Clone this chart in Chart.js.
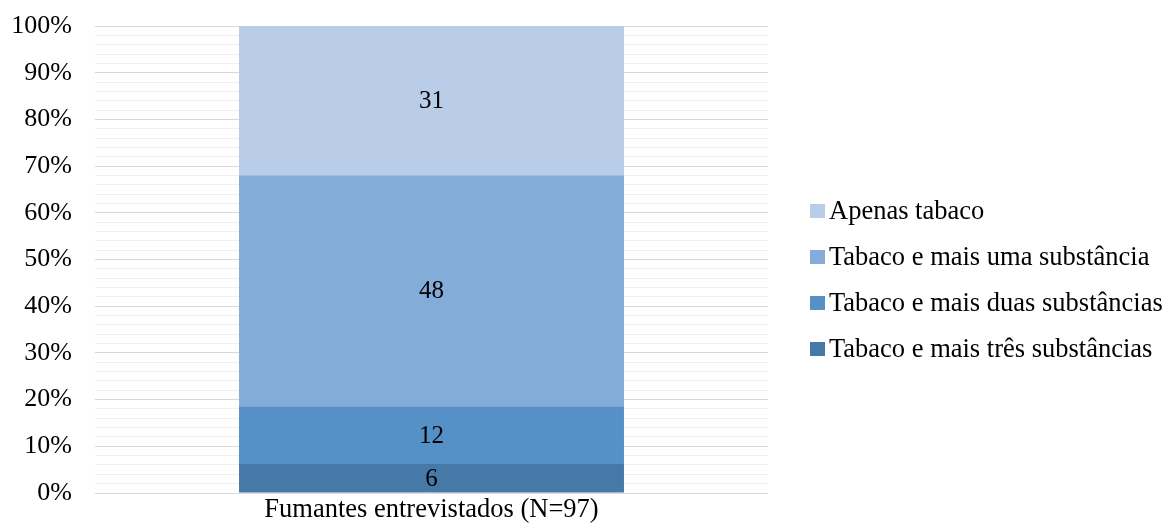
<!DOCTYPE html>
<html><head><meta charset="utf-8">
<script src="https://cdn.jsdelivr.net/npm/chart.js@4/dist/chart.umd.min.js"></script>
<style>html,body{margin:0;padding:0;background:#fff}#wrap{width:1169px;height:525px}</style>
</head><body><div id="wrap"><canvas id="c" width="1169" height="525"></canvas></div>
<script>
const categories = ['Fumantes entrevistados (N=97)'];
const seriesNames = ['Tabaco e mais três substâncias','Tabaco e mais duas substâncias','Tabaco e mais uma substância','Apenas tabaco'];
const tresValues = [6];
const duasValues = [12];
const umaValues = [48];
const apenasValues = [31];
const colors = ['#4779a8','#5591c7','#84acd9','#b9cde8'];
const allValues = [tresValues, duasValues, umaValues, apenasValues];
const totals = categories.map((_, i) => allValues.reduce((s, a) => s + a[i], 0));

const FONT = "'Liberation Serif', 'Times New Roman', serif";

const labelPlugin = {
  id: 'segLabels',
  afterDatasetsDraw(chart) {
    const ctx = chart.ctx;
    ctx.save();
    ctx.font = '25px ' + FONT;
    ctx.fillStyle = '#000';
    ctx.textAlign = 'center';
    ctx.textBaseline = 'middle';
    chart.data.datasets.forEach((ds, di) => {
      chart.getDatasetMeta(di).data.forEach((el, i) => {
        const p = el.getProps(['x','y','base'], true);
        ctx.fillText(String(ds.raw[i]), p.x, (p.y + p.base) / 2 + 1);
      });
    });
    ctx.restore();
  }
};

const legendPlugin = {
  id: 'sideLegend',
  afterDraw(chart) {
    const ctx = chart.ctx;
    const a = chart.chartArea;
    const ds = chart.data.datasets.slice().reverse();
    const x0 = a.right + 42;
    const midY = (a.top + a.bottom) / 2 + 20.5;
    const step = 46;
    ctx.save();
    ctx.font = '26.5px ' + FONT;
    ctx.textBaseline = 'middle';
    ctx.textAlign = 'left';
    ds.forEach((d, k) => {
      const cy = midY + (k - (ds.length - 1) / 2) * step;
      ctx.fillStyle = d.backgroundColor;
      ctx.fillRect(x0, cy - 7, 15, 14);
      ctx.fillStyle = '#000';
      ctx.fillText(d.label, x0 + 19, cy + 1);
    });
    ctx.restore();
  }
};

new Chart(document.getElementById('c'), {
  type: 'bar',
  data: {
    labels: categories,
    datasets: seriesNames.map((n, k) => ({
      label: n,
      raw: allValues[k],
      data: allValues[k].map((v, i) => v / totals[i] * 100),
      backgroundColor: colors[k],
      borderWidth: 0,
      barPercentage: 0.572,
      categoryPercentage: 1
    }))
  },
  options: {
    responsive: false,
    animation: false,
    layout: { padding: { top: 26, right: 401, left: 11, bottom: 0 } },
    plugins: {
      tooltip: { enabled: false },
      legend: { display: false }
    },
    scales: {
      x: {
        stacked: true,
        grid: { display: false, drawTicks: false },
        border: { display: false },
        afterFit: (s) => { s.height = 32; s.paddingLeft = 0; s.paddingRight = 0; },
        ticks: { color: '#000', font: { family: FONT, size: 26.5, lineHeight: 1 }, padding: 4 }
      },
      y: {
        stacked: true,
        min: 0, max: 100,
        border: { display: false },
        afterFit: (s) => { s.width = 84; s.paddingTop = 0; s.paddingBottom = 0; },
        grid: {
          drawTicks: false,
          color: (c) => (c.tick && c.tick.value % 10 === 0) ? '#d9d9d9' : '#f0f0f0',
          lineWidth: 1
        },
        ticks: {
          stepSize: 2,
          autoSkip: false,
          padding: 23,
          color: '#000',
          font: { family: FONT, size: 26, lineHeight: 1 },
          callback: (v) => (v % 10 === 0) ? v + '%' : ''
        }
      }
    }
  },
  plugins: [labelPlugin, legendPlugin]
});
</script></body></html>
